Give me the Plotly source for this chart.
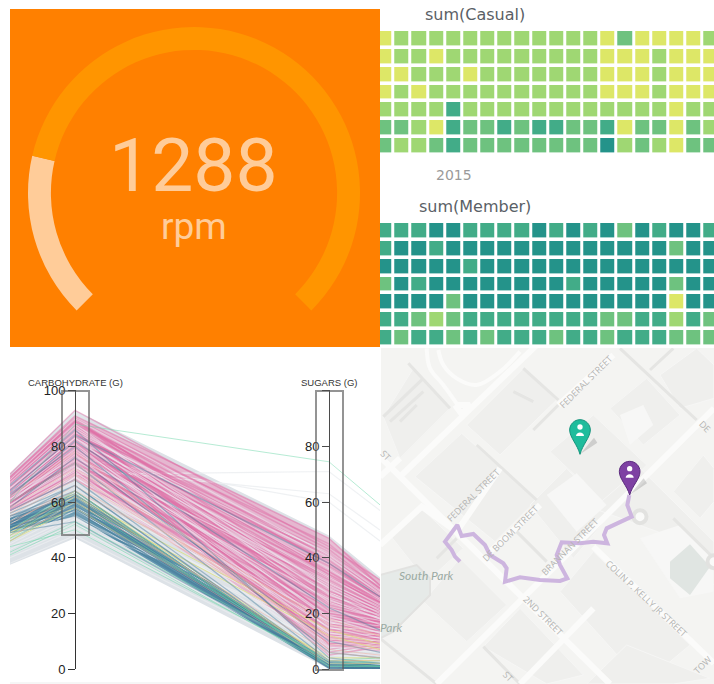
import plotly.graph_objects as go

W, H = 714, 684

# ---------- gauge ----------
GAUGE_VALUE = 1288
GAUGE_MAX = 6000
GAUGE_GAP = 2000
GAUGE_UNIT = "rpm"

# ---------- calendar heatmaps (binned levels) ----------
CASUAL = [
    [1,2,2,2,2,2,2,2,2,2,2,2,2,1,3,1,1,1,1,2],
    [1,2,2,1,2,2,2,2,2,2,2,2,2,1,1,1,2,1,1,1],
    [1,1,2,2,2,1,2,2,2,2,2,2,2,1,1,1,2,1,1,1],
    [1,2,1,2,2,2,2,2,2,2,2,2,2,1,1,1,2,1,1,1],
    [2,2,2,2,4,2,2,2,2,2,2,2,2,2,2,2,2,1,2,2],
    [3,3,2,1,4,3,3,4,3,4,4,3,3,4,1,3,3,1,3,2],
    [3,2,2,3,4,3,3,3,3,3,3,3,3,5,2,3,2,1,3,3],
]
MEMBER = [
    [4,4,4,5,5,4,4,4,4,5,4,5,4,5,3,5,4,5,5,4],
    [4,5,5,4,5,5,5,5,5,5,5,5,5,5,5,5,5,3,5,5],
    [5,5,5,5,5,4,5,5,5,5,5,5,5,5,5,5,5,5,5,5],
    [3,5,4,5,5,5,5,5,5,5,5,4,5,5,5,5,5,3,5,5],
    [5,5,5,5,3,5,5,5,5,5,5,5,5,5,5,5,5,1,5,5],
    [4,4,3,2,3,4,4,4,4,4,4,4,4,3,3,4,4,2,4,3],
    [4,3,4,4,3,4,3,4,4,4,3,4,4,3,4,4,4,3,3,3],
]
LEVEL_COLORS = ["#DDE767", "#9FD773", "#6EC27F", "#42AC88", "#24938A"]
CAL_TITLES = ["sum(Casual)", "sum(Member)"]
CAL_YEAR = "2015"

# ---------- parallel coordinates ----------
AXIS_LABELS = ["CARBOHYDRATE (G)", "SUGARS (G)"]
CARB_TICKS = [0, 20, 40, 60, 80, 100]
SUGAR_TICKS = [0, 20, 40, 60, 80, 100]
SUGAR_TICKTEXT = ["0", "20", "40", "60", "80", ""]
PC_POS = [-0.256, 0, 1, 1.201]   # left clip, carbohydrate, sugars, right clip

ENV_TOP = [70.5, 93, 48, 33]
ENV_BOT = [37.5, 47, 0, 0]
PINK_TOP = [69, 91, 47, 32]
PINK_BOT = [57, 68, 8, 6]
BAND_TOP = [54, 63, 3, 1.5]
BAND_BOT = [49, 55, 0, 0]

PINK_LEFT = [70,69,68,68,67,67,66,66,65,65,64,64,63,63,62,62,61,61,60,60,59,59,58,58,57,69,66,64,62,60,58,67,65,63,61,59,68,66,64,62,60,58,67,63,61,59,57,66,64,62,60,65,63,61,59,57,68,62,60,64]
PINK_CARB = [93,91,90,89,88,87,86,85,84,84,83,82,81,80,79,78,77,76,75,74,73,72,71,70,68,90,88,85,83,80,76,89,86,84,81,78,90,87,85,82,79,74,88,83,80,77,70,87,84,81,78,86,82,79,75,71,89,80,76,85]
PINK_SUGARS = [44,47,43,40,45,38,42,36,41,34,39,33,37,32,35,30,33,28,31,26,29,24,27,22,20,21,15,26,12,18,10,35,9,23,14,7,30,19,11,25,6,16,38,13,22,8,18,28,17,10,20,24,5,16,12,14,34,9,11,19]
PINK_RIGHT = [32,30,29,28,30,27,29,26,28,25,27,24,26,23,25,22,24,21,23,20,22,19,21,18,17,18,15,20,13,16,12,24,11,19,14,10,22,17,12,20,9,15,25,13,18,10,16,21,15,11,17,19,8,14,12,13,23,10,11,16]

PALE_LEFT = [66,63,60,58,68,65,62,59,64,61,57,67,63,60,58,65,62,59,56,61,64,66]
PALE_CARB = [86,82,78,72,90,84,80,74,83,79,70,88,81,77,71,85,76,73,68,75,83,87]
PALE_SUGARS = [36,30,22,17,41,27,19,13,33,16,11,24,12,8,6,40,31,15,10,25,18,29]
PALE_RIGHT = [25,21,16,13,28,19,14,10,23,12,9,18,10,7,5,27,22,11,8,18,13,20]

TEAL_LEFT = [50,51,51,52,52,53,53,54,52,51,55,56,50,53,54,49,52,57,60,63,66,58,62,55,64,52,51,50,53,54]
TEAL_CARB = [56,57,58,59,60,60,61,62,58,57,64,66,55,60,63,53,59,68,74,80,86,76,82,62,84,61,60,58,64,66]
TEAL_SUGARS = [0.5,1,1.5,1,2,0.5,1,1.5,2,0.5,1,1.5,3,2,1,2,0.5,2,3,6,4,10,22,2,38,1,0.5,2,1,1]
TEAL_RIGHT = [0.5,0.5,1,0.5,1,0,0.5,1,1,0,0.5,1,1,1,0.5,1,0,1,2,4,2,6,14,1,26,0.5,0,1,0.5,0.5]

GREY_LEFT = [42,44,46,48,40,45,52,55,50,38,43,47,56,60,54,41,49,53,64,58,67,62]
GREY_CARB = [52,55,58,62,50,57,66,70,64,48,54,60,72,76,68,51,63,69,73,72,78,82]
GREY_SUGARS = [14,8,16,11,4,6,18,71,9,2,12,7,63,60,13,3,17,10,5,15,28,42]
GREY_RIGHT = [10,6,12,8,3,5,13,57,7,1,9,6,50,46,10,2,11,7,4,11,18,30]

GREEN_LEFT = [41,42,46,48,60,50,47,44]
GREEN_CARB = [52,53,60,62,88,64,58,50]
GREEN_SUGARS = [1,3,2,2,74.5,1,3,2]
GREEN_RIGHT = [1,2,1,2,59,1,4,3]

YELLOW_LEFT = [47,48,50,46,49]
YELLOW_CARB = [62,64,63,58,60]
YELLOW_SUGARS = [14,3,2,4,12]
YELLOW_RIGHT = [9,3,2,4,7]

SALMON_LEFT = [46,52,58,62,50,55,60,48,56,53]
SALMON_CARB = [60,66,72,78,62,68,74,58,70,64]
SALMON_SUGARS = [6,12,16,9,3,14,7,2,11,18]
SALMON_RIGHT = [4,9,12,7,3,10,5,2,8,12]

# ---------- map (positions) ----------
BUILD_X = [[10,100,210,60,10],[105,245,470,345,105],[260,430,530,360,260],[510,640,800,680,510],
           [690,800,900,790,690],[840,950,1002,1002,900,840],[880,970,1002,1002,960,880],[540,640,930,790,540],
           [450,560,690,580,450],[310,420,610,500,310],[640,780,1002,1002,860,640],[30,125,250,140,30],
           [240,380,260,130,240],[620,740,990,880,620]]
BUILD_Y = [[215,70,190,340,215],[395,265,465,590,395],[240,70,165,330,240],[320,210,360,480,320],
           [190,100,210,300,190],[90,10,60,160,190,90],[440,330,370,470,520,440],[740,620,900,1017,740],
           [480,370,510,640,480],[905,790,990,1017,905],[490,370,590,720,570,490],[570,490,610,710,570],
           [640,780,890,770,640],[1017,900,1000,1017,1017]]
LIGHT_X = [[500,590,680,590,500],[720,790,820,750,720],[780,900,1000,1000,900,780]]
LIGHT_Y = [[450,385,480,560,450],[210,180,240,300,210],[580,540,640,740,760,580]]
PARK_X = [0,110,150,150,40,0,0]
PARK_Y = [690,660,700,750,860,880,690]
GREENBLOCK_X = [870,930,990,930,870,870]
GREENBLOCK_Y = [650,598,665,750,700,650]

WHITE_X = [[170,1002],[0,690],[60,470],[535,700],[640,1002],[330,480],[225,270,245,225],[0,60],[0,125,230,360],[420,640]]
WHITE_Y = [[1017,190],[335,1017],[395,0],[180,30],[605,955],[620,480],[180,180,207,180],[395,340],[600,485,560,370],[1017,790]]
LOOP_X = [[140,150,190,240],[175,190,230,290,360,420]]
LOOP_Y = [[10,70,120,190],[15,60,100,120,80,20]]
GREY_ROAD_X = [[720,950],[810,880],[430,535],[460,535],[290,470],[85,210],[10,130],[410,500],[0,125],[170,230],
               [310,420],[0,170],[880,1002],[30,130],[400,460],[60,110]]
GREY_ROAD_Y = [[10,225],[75,10],[70,165],[255,180],[300,465],[55,190],[215,100],[560,650],[600,485],[640,580],
               [905,1017],[880,1017],[520,640],[230,140],[140,170],[230,180]]
RING_X = [780, 1002]
RING_Y = [515, 650]

ROUTE_X = [748,742,755,720,680,672,682,640,600,545,530,540,562,540,480,420,375,380,370,330,315,280,245,232,195,215,225,240]
ROUTE_Y = [450,480,515,530,550,570,595,590,595,592,630,660,700,708,705,697,710,670,655,630,600,567,573,540,590,615,635,650]

PIN_X = [600, 749]
PIN_Y = [255, 380]
PIN_TIP = [328, 450]
PIN_FILL = ["#1FBC9C", "#7E41A3"]
PIN_EDGE = ["#15947C", "#5C2C7E"]

MAP_LABELS = [
    ("FEDERAL STREET", 618, 110, -45), ("FEDERAL STREET", 278, 450, -45), ("DE BOOM STREET", 390, 565, -45),
    ("BRANNAN STREET", 570, 605, -45), ("2ND STREET", 490, 810, 45), ("COLIN P. KELLY JR STREET", 800, 760, 43),
    ("TOW", 968, 958, -45), ("DE", 975, 245, 45), ("ST", 385, 995, 45), ("ST", 18, 330, 45),
]
PARK_LABELS = [("South Park", 140, 692), ("Park", 33, 846)]


# ---------- helpers ----------
def dom_x(a, b):
    return [a / W, b / W]


def dom_y(top, bottom):
    return [1 - bottom / H, 1 - top / H]


def px(x, y, text, size, color, family="DejaVu Sans", **kw):
    return dict(x=x / W, y=1 - y / H, xref="paper", yref="paper", text=text, showarrow=False,
                xanchor="center", yanchor="middle", font=dict(size=size, color=color, family=family), **kw)


def polyline(*cols):
    xs, ys = [], []
    for row in zip(*cols):
        xs += PC_POS + [None]
        ys += list(row) + [None]
    return xs, ys


def multi(xss, yss):
    xs, ys = [], []
    for a, b in zip(xss, yss):
        xs += a + [None]
        ys += b + [None]
    return xs, ys


def pin_path(cx, cy, r, tip):
    h = tip - cy
    return (f"M {cx},{tip} C {cx-0.25*r},{tip-0.4*h} {cx-r},{cy+0.7*r} {cx-r},{cy} "
            f"C {cx-r},{cy-0.55*r} {cx-0.55*r},{cy-r} {cx},{cy-r} "
            f"C {cx+0.55*r},{cy-r} {cx+r},{cy-0.55*r} {cx+r},{cy} "
            f"C {cx+r},{cy+0.7*r} {cx+0.25*r},{tip-0.4*h} {cx},{tip} Z")


fig = go.Figure()

# gauge
fig.add_trace(go.Pie(values=[GAUGE_VALUE, GAUGE_MAX - GAUGE_VALUE, GAUGE_GAP], sort=False, direction="clockwise",
                     rotation=225, hole=0.862, textinfo="none", hoverinfo="skip", showlegend=False,
                     marker=dict(colors=["#FFCC99", "#FF9500", "rgba(0,0,0,0)"], line=dict(width=0)),
                     domain=dict(x=dom_x(28, 360), y=dom_y(27, 359))))

# calendars
scale = [[i / 4, c] for i, c in enumerate(LEVEL_COLORS)]
for data, xa, ya in [(CASUAL, "x", "y"), (MEMBER, "x2", "y2")]:
    fig.add_trace(go.Heatmap(z=data, xaxis=xa, yaxis=ya, colorscale=scale, zmin=1, zmax=5,
                             showscale=False, xgap=3, ygap=3.6, hoverinfo="skip"))

# parallel coordinates
PC = dict(xaxis="x3", yaxis="y3", hoverinfo="skip", showlegend=False)
fig.add_trace(go.Scatter(x=PC_POS + PC_POS[::-1], y=ENV_TOP + ENV_BOT[::-1], mode="lines", fill="toself",
                         fillcolor="#DDE2E7", line=dict(width=0), **PC))
fig.add_trace(go.Scatter(x=PC_POS + PC_POS[::-1], y=PINK_TOP + PINK_BOT[::-1], mode="lines", fill="toself",
                         fillcolor="rgba(232,165,198,0.7)", line=dict(width=0), **PC))
fig.add_trace(go.Scatter(x=PC_POS + PC_POS[::-1], y=BAND_TOP + BAND_BOT[::-1], mode="lines", fill="toself",
                         fillcolor="rgba(60,130,160,0.75)", line=dict(width=0), **PC))
for cols, color, lw in [
    ((GREY_LEFT, GREY_CARB, GREY_SUGARS, GREY_RIGHT), "rgba(235,238,240,0.8)", 1.2),
    ((PINK_LEFT, PINK_CARB, PINK_SUGARS, PINK_RIGHT), "rgba(224,110,165,0.5)", 1.5),
    ((PALE_LEFT, PALE_CARB, PALE_SUGARS, PALE_RIGHT), "rgba(236,226,236,0.65)", 1.2),
    ((YELLOW_LEFT, YELLOW_CARB, YELLOW_SUGARS, YELLOW_RIGHT), "rgba(220,225,110,0.7)", 1.0),
    ((TEAL_LEFT, TEAL_CARB, TEAL_SUGARS, TEAL_RIGHT), "rgba(70,125,155,0.45)", 1.3),
    ((GREEN_LEFT, GREEN_CARB, GREEN_SUGARS, GREEN_RIGHT), "rgba(110,215,170,0.5)", 1.0),
]:
    xs, ys = polyline(*cols)
    fig.add_trace(go.Scatter(x=xs, y=ys, mode="lines", line=dict(color=color, width=lw), **PC))
xs, ys = polyline(SALMON_LEFT, SALMON_CARB, SALMON_SUGARS, SALMON_RIGHT)
fig.add_trace(go.Scatter(x=xs, y=ys, mode="lines", line=dict(color="rgba(240,170,150,0.45)", width=1),
                         xaxis="x3", yaxis="y4", hoverinfo="skip", showlegend=False))

# map
MAP = dict(xaxis="x5", yaxis="y5", hoverinfo="skip", showlegend=False)
for bx, by in zip(BUILD_X, BUILD_Y):
    fig.add_trace(go.Scatter(x=bx, y=by, mode="lines", fill="toself", fillcolor="#EFEFED",
                             line=dict(color="#F6F6F5", width=1), **MAP))
for bx, by in zip(LIGHT_X, LIGHT_Y):
    fig.add_trace(go.Scatter(x=bx, y=by, mode="lines", fill="toself", fillcolor="#F7F7F6", line=dict(width=0), **MAP))
fig.add_trace(go.Scatter(x=PARK_X, y=PARK_Y, mode="lines", fill="toself", fillcolor="#E6EAE8",
                         line=dict(color="#E2E2E0", width=2), **MAP))
fig.add_trace(go.Scatter(x=GREENBLOCK_X, y=GREENBLOCK_Y, mode="lines", fill="toself", fillcolor="#E0E5E2",
                         line=dict(width=0), **MAP))
xs, ys = multi(GREY_ROAD_X, GREY_ROAD_Y)
fig.add_trace(go.Scatter(x=xs, y=ys, mode="lines", line=dict(color="#E5E5E3", width=3), **MAP))
xs, ys = multi(WHITE_X, WHITE_Y)
fig.add_trace(go.Scatter(x=xs, y=ys, mode="lines", line=dict(color="#FBFBFA", width=6), **MAP))
xs, ys = multi(LOOP_X, LOOP_Y)
fig.add_trace(go.Scatter(x=xs, y=ys, mode="lines", line=dict(color="#FBFBFA", width=4, shape="spline"), **MAP))
fig.add_trace(go.Scatter(x=RING_X, y=RING_Y, mode="markers", cliponaxis=True,
                         marker=dict(size=13, color="#FAFAF9", line=dict(color="#E2E2E0", width=4)), **MAP))
fig.add_trace(go.Scatter(x=ROUTE_X, y=ROUTE_Y, mode="lines",
                         line=dict(color="#CDB5DF", width=4), **MAP))

# shapes
shapes = [
    dict(type="rect", xref="paper", yref="paper", x0=10 / W, x1=380 / W, y0=1 - 347 / H, y1=1 - 9 / H,
         fillcolor="#FF8000", line_width=0, layer="below"),
    dict(type="rect", xref="paper", yref="paper", x0=381 / W, x1=1, y0=0, y1=1 - 348 / H,
         fillcolor="#F4F4F2", line_width=0, layer="below"),
    dict(type="line", xref="paper", yref="paper", x0=10 / W, x1=380 / W, y0=1 - 683 / H, y1=1 - 683 / H,
         line=dict(color="#EDEDED", width=1)),
    dict(type="rect", xref="paper", yref="paper", x0=62 / W, x1=89 / W, y0=1 - 535 / H, y1=1 - 391 / H,
         fillcolor="rgba(255,255,255,0.12)", line=dict(color="rgba(90,90,90,0.65)", width=2)),
    dict(type="rect", xref="paper", yref="paper", x0=316 / W, x1=343 / W, y0=1 - 670 / H, y1=1 - 391 / H,
         fillcolor="rgba(255,255,255,0.12)", line=dict(color="rgba(90,90,90,0.65)", width=2)),
]
for cx, cy, tip, fill, edge in zip(PIN_X, PIN_Y, PIN_TIP, PIN_FILL, PIN_EDGE):
    shapes.append(dict(type="path", xref="x5", yref="y5", path=f"M {cx},{tip} L {cx+42},{tip-50} L {cx+52},{tip-35} Z",
                       fillcolor="rgba(90,90,90,0.22)", line_width=0))
    shapes.append(dict(type="path", xref="x5", yref="y5", path=pin_path(cx, cy, 31, tip),
                       fillcolor=fill, line=dict(color=edge, width=1)))
    shapes.append(dict(type="circle", xref="x5", yref="y5", x0=cx - 8, x1=cx + 8, y0=cy - 17, y1=cy - 1,
                       fillcolor="#FFFFFF", line_width=0))
    shapes.append(dict(type="path", xref="x5", yref="y5",
                       path=f"M {cx-12},{cy+18} C {cx-12},{cy+4} {cx+12},{cy+4} {cx+12},{cy+18} Z",
                       fillcolor="#FFFFFF", line_width=0))

annotations = [
    px(194, 165, f"{GAUGE_VALUE}", 75, "#FFCC99", "Roboto"),
    px(194, 226, GAUGE_UNIT, 37, "#FFCC99", "Roboto"),
    px(475, 15, CAL_TITLES[0], 16, "#5A5F66"),
    px(474.5, 207, CAL_TITLES[1], 16, "#5A5F66"),
    px(454.5, 175, CAL_YEAR, 14, "#9A9A9A"),
    px(75, 382, AXIS_LABELS[0], 9.5, "#333333", "Liberation Sans"),
    px(329, 382, AXIS_LABELS[1], 9.5, "#333333", "Liberation Sans"),
]
for text, x, y, ang in MAP_LABELS:
    annotations.append(dict(x=x, y=y, xref="x5", yref="y5", text=text, showarrow=False, textangle=ang,
                            font=dict(size=9, color="#B4B4B2", family="Open Sans")))
for text, x, y in PARK_LABELS:
    annotations.append(dict(x=x, y=y, xref="x5", yref="y5", text=f"<i>{text}</i>", showarrow=False,
                            font=dict(size=12, color="#9BAAA3", family="Lato")))

hidden = dict(visible=False, fixedrange=True)
TICKS = dict(showline=True, linecolor="#333333", linewidth=1, ticks="outside", ticklen=7, tickcolor="#333333",
             showgrid=False, zeroline=False, range=[0, 100.3], side="left",
             tickfont=dict(size=13, color="#222222", family="Liberation Sans"))
fig.update_layout(
    width=W, height=H, autosize=False, margin=dict(l=0, r=0, t=0, b=0, pad=0, autoexpand=False),
    paper_bgcolor="#FFFFFF", plot_bgcolor="rgba(0,0,0,0)", showlegend=False,
    shapes=shapes, annotations=annotations,
    xaxis=dict(hidden, domain=dom_x(380, 714), range=[-0.28, 19.17], anchor="y"),
    yaxis=dict(hidden, domain=dom_y(30, 155), range=[6.5, -0.5], anchor="x"),
    xaxis2=dict(hidden, domain=dom_x(380, 714), range=[-0.28, 19.17], anchor="y2"),
    yaxis2=dict(hidden, domain=dom_y(222, 347), range=[6.5, -0.5], anchor="x2"),
    xaxis3=dict(hidden, domain=dom_x(10, 380), range=[PC_POS[0], PC_POS[-1]], anchor="y3"),
    yaxis3=dict(TICKS, domain=dom_y(390, 669), anchor="free", position=75 / W,
                tickvals=CARB_TICKS),
    yaxis4=dict(TICKS, domain=dom_y(390, 669), anchor="free", position=329 / W, overlaying="y3",
                tickvals=SUGAR_TICKS, ticktext=SUGAR_TICKTEXT),
    xaxis5=dict(hidden, domain=dom_x(381, 714), range=[3, 1002], anchor="y5"),
    yaxis5=dict(hidden, domain=dom_y(348, 684), range=[1017, 9], anchor="x5"),
)

fig.write_html("out.html", config=dict(displayModeBar=False),
               post_script="document.body.style.margin='0';document.body.style.overflow='hidden';")
